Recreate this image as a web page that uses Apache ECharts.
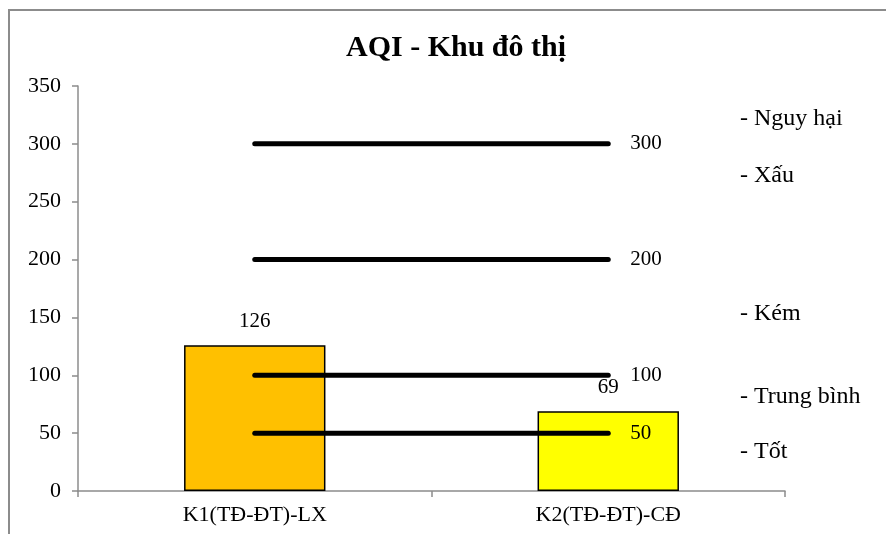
<!DOCTYPE html>
<html>
<head>
<meta charset="utf-8">
<script src="https://cdn.jsdelivr.net/npm/echarts@6/dist/echarts.min.js"></script>
<style>
  html, body { margin: 0; padding: 0; background: #ffffff; }
  #chart { width: 886px; height: 534px; }
</style>
</head>
<body>
<div id="chart"></div>
<script>
// Monitoring sites and their AQI values
const categories = ['K1(TĐ-ĐT)-LX', 'K2(TĐ-ĐT)-CĐ'];
const aqiValues = [126, 69];
const barColors = ['#FFC000', '#FFFF00'];

// AQI threshold lines
const thresholds = [300, 200, 100, 50];

// Quality bands listed on the right
const bandLabels = ['- Nguy hại', '- Xấu', '- Kém', '- Trung bình', '- Tốt'];
const bandLabelY = [119, 176, 314, 397, 452];

// Value axis ticks
const yMin = 0, yMax = 350, yStep = 50;

const serif = '"Liberation Serif", "Times New Roman", serif';

const chart = echarts.init(document.getElementById('chart'), null, { renderer: 'canvas' });

const thresholdSeries = thresholds.map(v => ({
  type: 'line',
  data: [v, v],
  symbol: 'none',
  silent: true,
  z: 5,
  lineStyle: { color: '#000000', width: 5, cap: 'round' },
  endLabel: {
    show: true,
    formatter: String(v),
    distance: 22,
    color: '#000000',
    fontFamily: serif,
    fontSize: 21
  }
}));

chart.setOption({
  animation: false,
  backgroundColor: '#ffffff',
  grid: { left: 78, right: 101, top: 86, bottom: 43 },
  xAxis: {
    type: 'category',
    data: categories,
    boundaryGap: true,
    axisLine: { lineStyle: { color: '#8c8c8c', width: 1.5 } },
    axisTick: { show: true, length: 6, lineStyle: { color: '#8c8c8c', width: 1.5 } },
    axisLabel: { color: '#000000', fontFamily: serif, fontSize: 22, margin: 13 },
    splitLine: { show: false }
  },
  yAxis: {
    type: 'value',
    min: yMin,
    max: yMax,
    interval: yStep,
    axisLine: { show: true, lineStyle: { color: '#8c8c8c', width: 1.5 } },
    axisTick: { show: true, length: 6, lineStyle: { color: '#8c8c8c', width: 1.5 } },
    axisLabel: { color: '#000000', fontFamily: serif, fontSize: 22, margin: 17 },
    splitLine: { show: false }
  },
  series: [
    {
      type: 'bar',
      barWidth: '40%',
      z: 2,
      data: aqiValues.map((v, i) => ({
        value: v,
        itemStyle: { color: barColors[i], borderColor: '#000000', borderWidth: 1.5 }
      })),
      label: {
        show: true,
        position: 'top',
        distance: 13,
        color: '#000000',
        fontFamily: serif,
        fontSize: 21
      }
    },
    ...thresholdSeries
  ],
  graphic: [
    {
      type: 'rect',
      shape: { x: 9, y: 10, width: 1000, height: 1000 },
      style: { fill: 'none', stroke: '#8c8c8c', lineWidth: 2 },
      silent: true,
      z: -10
    },
    {
      type: 'text',
      x: 456,
      y: 48,
      style: {
        text: 'AQI - Khu đô thị',
        fontFamily: serif,
        fontWeight: 'bold',
        fontSize: 30,
        fill: '#000000',
        align: 'center',
        verticalAlign: 'middle'
      }
    },
    ...bandLabels.map((t, i) => ({
      type: 'text',
      x: 740,
      y: bandLabelY[i],
      style: {
        text: t,
        fontFamily: serif,
        fontSize: 24,
        fill: '#000000',
        align: 'left',
        verticalAlign: 'middle'
      }
    }))
  ]
});
</script>
</body>
</html>
